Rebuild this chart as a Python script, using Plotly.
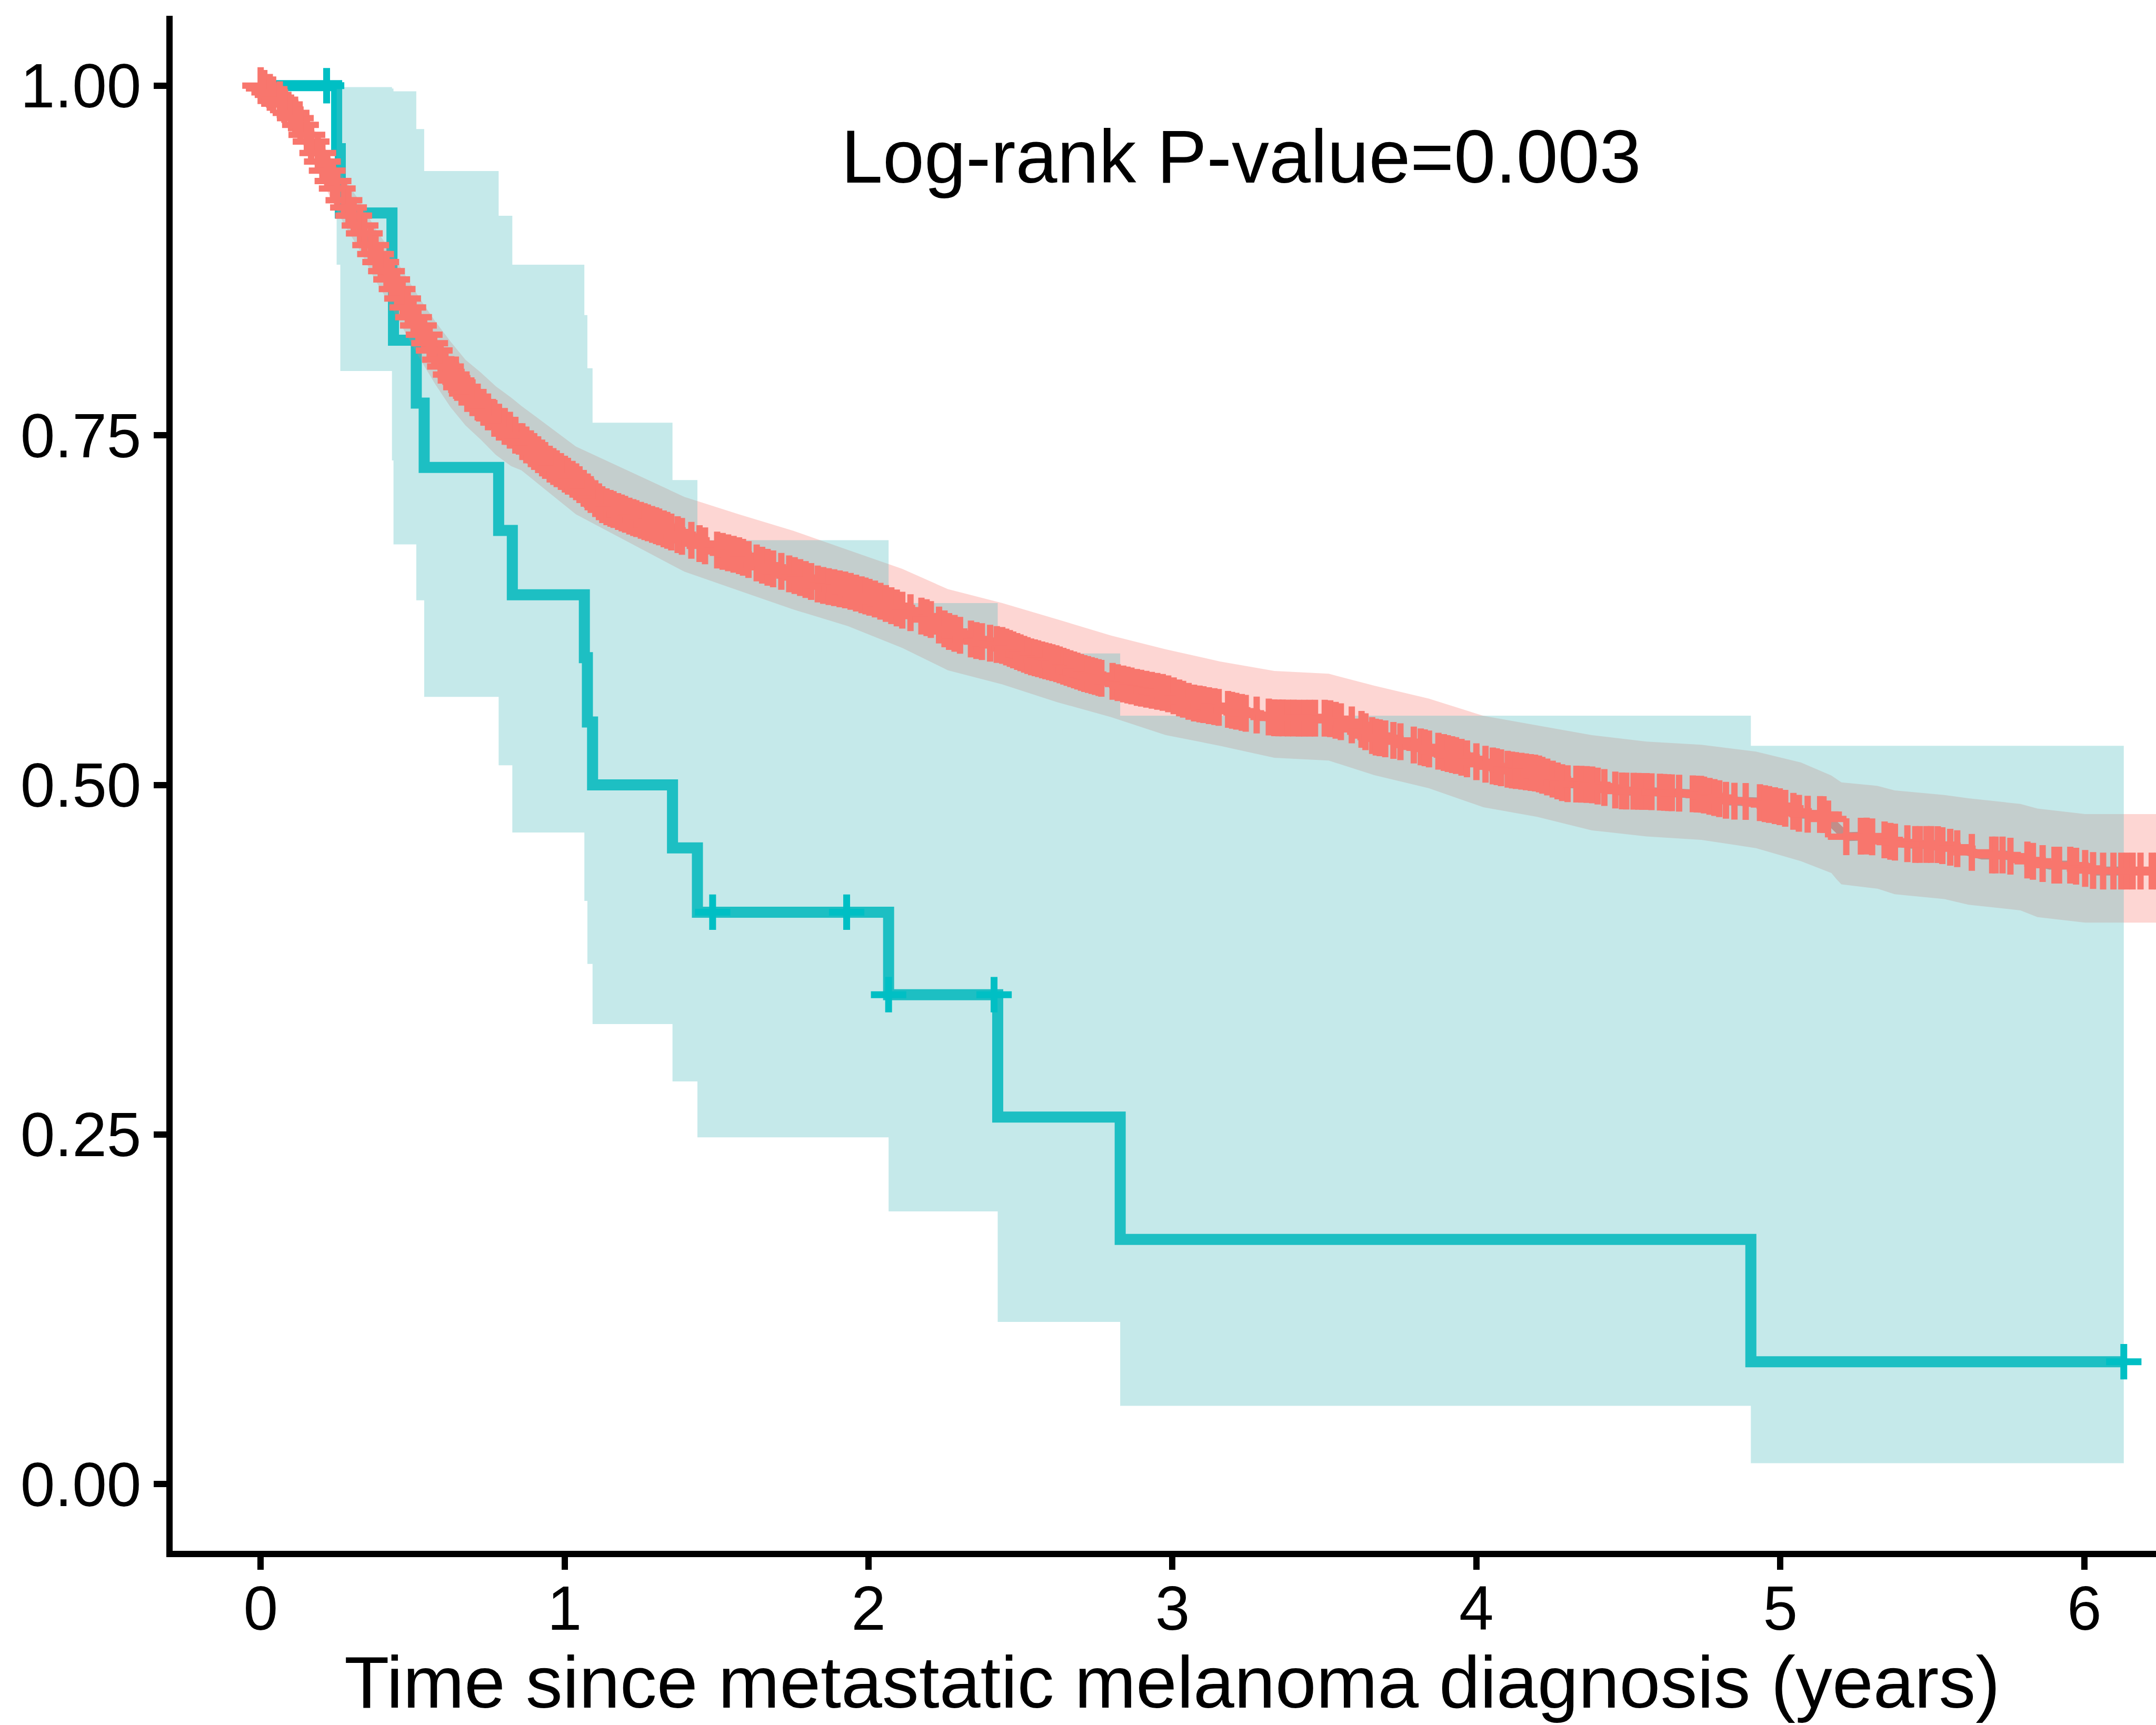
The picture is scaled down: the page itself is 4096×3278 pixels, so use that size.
import numpy as np
import plotly.graph_objects as go

# ---- Kaplan-Meier estimate, small group (teal) -------------------------------
teal_time = [0, 0.25, 0.262, 0.432, 0.437, 0.512, 0.538, 0.783, 0.828, 1.065,
             1.075, 1.092, 1.355, 1.437, 2.066, 2.425, 2.828, 4.903, 6.13]
teal_surv = [1.0, 0.955, 0.909, 0.864, 0.818, 0.773, 0.727, 0.682, 0.636, 0.591,
             0.545, 0.5, 0.455, 0.409, 0.35, 0.2625, 0.175, 0.0875, 0.0875]
teal_upper = [1.0, 1.0, 0.999, 0.998, 0.996, 0.969, 0.939, 0.907, 0.872, 0.836,
              0.798, 0.759, 0.718, 0.675, 0.630, 0.594, 0.5495, 0.528, 0.528]
teal_lower = [1.0, 0.872, 0.796, 0.732, 0.672, 0.632, 0.563, 0.514, 0.466, 0.417,
              0.372, 0.329, 0.288, 0.248, 0.195, 0.116, 0.056, 0.015, 0.015]
teal_censor = [0.217, 1.487, 1.928, 2.066, 2.413, 6.13]

# ---- Kaplan-Meier estimate, large group (red) --------------------------------
red_time = [0, 0.069, 0.128, 0.178, 0.227, 0.277, 0.327, 0.377, 0.427, 0.477,
            0.526, 0.576, 0.625, 0.674, 0.724, 0.774, 0.824, 0.858, 0.947, 1.037,
            1.126, 1.216, 1.305, 1.394, 1.484, 1.573, 1.663, 1.753, 1.842, 1.932,
            2.021, 2.111, 2.200, 2.261, 2.35, 2.44, 2.53, 2.62, 2.709, 2.798,
            2.888, 2.977, 3.067, 3.156, 3.245, 3.335, 3.424, 3.514, 3.604, 3.664,
            3.754, 3.843, 3.933, 4.023, 4.112, 4.2, 4.29, 4.38, 4.47, 4.56,
            4.65, 4.74, 4.83, 4.92, 5.007, 5.068, 5.142, 5.217, 5.291, 5.366,
            5.44, 5.515, 5.59, 5.664, 5.738, 5.813, 5.887, 5.961, 6.036, 6.25]
red_surv = [1.0, 0.989, 0.973, 0.956, 0.936, 0.917, 0.900, 0.880, 0.863, 0.844,
            0.826, 0.809, 0.794, 0.781, 0.772, 0.761, 0.753, 0.746, 0.730, 0.717,
            0.700, 0.692, 0.685, 0.677, 0.669, 0.664, 0.656, 0.650, 0.643, 0.639,
            0.633, 0.625, 0.619, 0.610, 0.6034, 0.5997, 0.5919, 0.5865, 0.5797, 0.5743,
            0.5695, 0.5658, 0.5587, 0.5553, 0.551, 0.548, 0.5477, 0.5477, 0.542, 0.5344,
            0.5307, 0.5258, 0.521, 0.5151, 0.5108, 0.5083, 0.501, 0.5001, 0.4957, 0.4953,
            0.4943, 0.4933, 0.4885, 0.4879, 0.484, 0.4791, 0.4788, 0.4630, 0.4635, 0.4594,
            0.4574, 0.4574, 0.454, 0.4499, 0.4499, 0.4463, 0.4426, 0.4426, 0.4384, 0.4384]

red_ci_time = [0, 0.069, 0.128, 0.178, 0.227, 0.277, 0.327, 0.377, 0.427, 0.477,
               0.526, 0.576, 0.625, 0.674, 0.724, 0.774, 0.824, 0.858, 1.037, 1.394,
               1.573, 1.753, 1.932, 2.111, 2.261, 2.44, 2.62, 2.798, 2.977, 3.156,
               3.335, 3.514, 3.664, 3.843, 4.023, 4.2, 4.38, 4.56, 4.74, 4.92,
               5.068, 5.168, 5.186, 5.201, 5.32, 5.376, 5.54, 5.619, 5.79, 5.846,
               6.003, 6.25]
red_upper = [1.0, 0.995, 0.983, 0.968, 0.950, 0.933, 0.917, 0.898, 0.882, 0.864,
             0.847, 0.831, 0.817, 0.804, 0.795, 0.785, 0.777, 0.771, 0.742, 0.706,
             0.6935, 0.6817, 0.668, 0.6545, 0.640, 0.630, 0.6185, 0.6068, 0.597, 0.5883,
             0.5815, 0.5795, 0.571, 0.5617, 0.5494, 0.5425, 0.5356, 0.531, 0.5287, 0.5238,
             0.516, 0.5067, 0.5042, 0.5018, 0.4993, 0.4961, 0.4928, 0.4904, 0.4864, 0.4831,
             0.4791, 0.4791]
red_lower = [1.0, 0.981, 0.962, 0.943, 0.921, 0.900, 0.882, 0.861, 0.843, 0.823,
             0.804, 0.786, 0.770, 0.757, 0.747, 0.736, 0.728, 0.725, 0.6935, 0.6525,
             0.639, 0.6254, 0.6136, 0.598, 0.582, 0.5719, 0.5592, 0.5485, 0.5357, 0.528,
             0.5194, 0.5174, 0.507, 0.4977, 0.484, 0.4772, 0.4675, 0.4631, 0.4607, 0.4548,
             0.4455, 0.437, 0.4323, 0.4289, 0.4258, 0.4218, 0.4184, 0.4143, 0.4103, 0.4055,
             0.4015, 0.4015]

red_censor = [
    0.0, 0.012, 0.03, 0.041, 0.063, 0.078, 0.1, 0.114, 0.131, 0.152, 0.166,
    0.188, 0.203, 0.219, 0.238, 0.252, 0.274, 0.289, 0.306, 0.327, 0.341,
    0.362, 0.378, 0.395, 0.414, 0.431, 0.449, 0.467, 0.484, 0.503, 0.519,
    0.538, 0.556, 0.571, 0.592, 0.608, 0.627, 0.643, 0.661, 0.68, 0.697,
    0.714, 0.733, 0.748, 0.769, 0.784, 0.803, 0.82, 0.838,
    0.861, 0.874, 0.889, 0.9, 0.913, 0.926, 0.936, 0.951, 0.963, 0.974, 0.988,
    1.001, 1.011, 1.026, 1.038, 1.049, 1.063, 1.076, 1.086, 1.101, 1.113, 1.124,
    1.138, 1.151, 1.161, 1.176, 1.188, 1.199, 1.213, 1.226, 1.236, 1.251, 1.263,
    1.274, 1.288, 1.301, 1.311, 1.326, 1.338, 1.351,
    1.372, 1.386, 1.417, 1.444, 1.462, 1.502, 1.520, 1.538, 1.556, 1.574, 1.587,
    1.605, 1.632, 1.650, 1.668, 1.686, 1.713, 1.739, 1.757, 1.775, 1.793, 1.811,
    1.833, 1.851, 1.869, 1.887, 1.905, 1.923, 1.941, 1.959, 1.977, 1.990, 2.003,
    2.021, 2.039, 2.057, 2.075, 2.093, 2.111, 2.138, 2.174, 2.191, 2.205, 2.232,
    2.250,
    2.265, 2.283, 2.301, 2.337, 2.355, 2.373, 2.40, 2.422, 2.44, 2.453, 2.465,
    2.476, 2.489, 2.5, 2.512, 2.523, 2.535, 2.547, 2.558, 2.571, 2.582, 2.594,
    2.605, 2.618, 2.629, 2.641, 2.652, 2.664, 2.676, 2.687, 2.699, 2.71, 2.722,
    2.734, 2.745, 2.757, 2.766, 2.803, 2.820, 2.838, 2.852, 2.865, 2.883, 2.897,
    2.914, 2.932, 2.950, 2.968, 2.986, 3.004, 3.022, 3.035, 3.053, 3.071, 3.089,
    3.102, 3.120, 3.138, 3.152, 3.183, 3.196, 3.210, 3.228, 3.241, 3.277, 3.317,
    3.335, 3.349, 3.362, 3.380, 3.398, 3.416, 3.434, 3.452, 3.469, 3.501, 3.519,
    3.537, 3.554, 3.590, 3.622, 3.635, 3.657,
    3.669, 3.682, 3.700, 3.727, 3.750, 3.794, 3.817, 3.830, 3.844, 3.875, 3.893,
    3.906, 3.920, 3.933, 3.951, 3.969, 4.000, 4.030, 4.054, 4.067, 4.081, 4.103,
    4.117, 4.130, 4.148, 4.163, 4.179, 4.193, 4.206, 4.217, 4.233, 4.251, 4.267,
    4.282, 4.300, 4.329, 4.345, 4.363, 4.381, 4.399, 4.421, 4.457, 4.479, 4.493,
    4.517, 4.533, 4.546, 4.560, 4.576, 4.604, 4.618, 4.631, 4.643, 4.667, 4.712,
    4.725, 4.739, 4.749, 4.767, 4.783, 4.799, 4.821, 4.849, 4.886, 4.933, 4.949,
    4.963, 4.982, 4.998, 5.016, 5.043, 5.061,
    5.090, 5.131, 5.142, 5.157, 5.217, 5.265, 5.284, 5.302, 5.343, 5.362, 5.377,
    5.418, 5.444, 5.459, 5.481, 5.496, 5.518, 5.533, 5.559, 5.582, 5.630, 5.697,
    5.708, 5.731, 5.757, 5.813, 5.831, 5.863, 5.902, 5.917, 5.954, 5.973, 6.003,
    6.029, 6.062, 6.096, 6.122, 6.140, 6.159, 6.185, 6.222, 6.24]

x_ticks = [0, 1, 2, 3, 4, 5, 6]
y_ticks = [0, 0.25, 0.5, 0.75, 1.0]
y_tick_text = ["0.00", "0.25", "0.50", "0.75", "1.00"]

x_title = "Time since metastatic melanoma diagnosis (years)"
pval_text = "Log-rank P-value=0.003"

RED = "#F8766D"
TEAL = "#00BFC4"
RED_BAND = "rgba(248,118,109,0.3)"
TEAL_BAND = "rgba(84,190,193,0.34)"
FONT = "Liberation Sans, Arial, sans-serif"


def step_value(times, values, t):
    """Value of a right-continuous step function at time t."""
    idx = np.searchsorted(np.asarray(times), t, side="right") - 1
    return np.asarray(values)[np.clip(idx, 0, len(values) - 1)]


red_censor_y = np.interp(red_censor, red_time, red_surv)
teal_censor_y = step_value(teal_time, teal_surv, np.asarray(teal_censor))

fig = go.Figure()

# survival curves
fig.add_trace(go.Scatter(x=red_time, y=red_surv, mode="lines",
                         line=dict(color=RED, width=17), hoverinfo="skip"))
fig.add_trace(go.Scatter(x=teal_time, y=teal_surv, mode="lines",
                         line=dict(color=TEAL, width=21, shape="hv"),
                         hoverinfo="skip"))

# confidence bands
fig.add_trace(go.Scatter(x=red_ci_time, y=red_lower, mode="lines",
                         line=dict(width=0, color=RED), hoverinfo="skip"))
fig.add_trace(go.Scatter(x=red_ci_time, y=red_upper, mode="lines",
                         line=dict(width=0, color=RED), fill="tonexty",
                         fillcolor=RED_BAND, hoverinfo="skip"))
fig.add_trace(go.Scatter(x=teal_time, y=teal_lower, mode="lines",
                         line=dict(width=0, color=TEAL, shape="hv"),
                         hoverinfo="skip"))
fig.add_trace(go.Scatter(x=teal_time, y=teal_upper, mode="lines",
                         line=dict(width=0, color=TEAL, shape="hv"),
                         fill="tonexty", fillcolor=TEAL_BAND,
                         hoverinfo="skip"))

# censoring marks
fig.add_trace(go.Scatter(x=red_censor, y=red_censor_y, mode="markers",
                         marker=dict(symbol="cross-thin", size=50,
                                     line=dict(color=RED, width=12)),
                         hoverinfo="skip"))
fig.add_trace(go.Scatter(x=teal_censor, y=teal_censor_y, mode="markers",
                         marker=dict(symbol="cross-thin", size=48,
                                     line=dict(color=TEAL, width=13)),
                         hoverinfo="skip"))

fig.add_annotation(x=3.226, y=0.9799, xref="x", yref="y", text=pval_text,
                   showarrow=False, xanchor="center", yanchor="top",
                   font=dict(family=FONT, size=142, color="black"))
fig.add_annotation(x=3.0, y=-0.0578, xref="x", yref="paper", text=x_title,
                   showarrow=False, xanchor="center", yanchor="top",
                   font=dict(family=FONT, size=140, color="black"))

axis_common = dict(showgrid=False, zeroline=False, showline=True,
                   linecolor="black", linewidth=12, ticks="outside",
                   ticklen=24, tickwidth=12, tickcolor="black",
                   tickfont=dict(family=FONT, size=118, color="black"))

fig.update_xaxes(range=[-0.2896, 6.236], tickvals=x_ticks,
                 ticktext=[str(v) for v in x_ticks], ticklabelstandoff=-28,
                 **axis_common)
fig.update_yaxes(range=[-0.0477, 1.05], tickvals=y_ticks,
                 ticktext=y_tick_text, **axis_common)

fig.update_layout(width=4096, height=3278, showlegend=False,
                  paper_bgcolor="white", plot_bgcolor="white",
                  margin=dict(l=327.75, r=0, t=29.7, b=331.1, pad=0),
                  font=dict(family=FONT))

fig.write_html("out.html")
